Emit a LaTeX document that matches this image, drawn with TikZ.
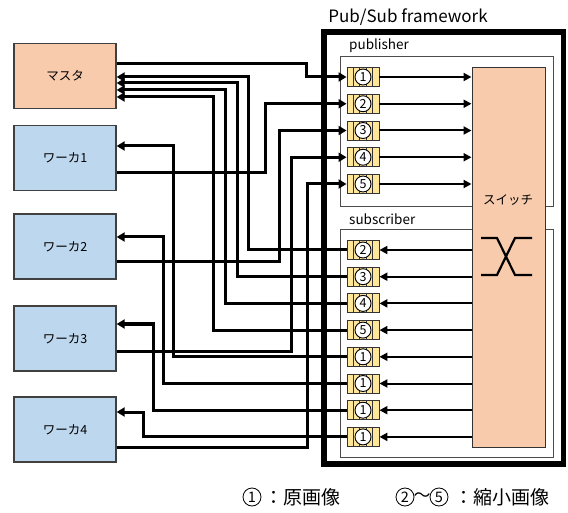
\documentclass[tikz,border=0pt]{standalone}
\usepackage{fontspec}
\setmainfont{Noto Sans CJK JP}
\usetikzlibrary{arrows.meta,calc}
\definecolor{mcol}{HTML}{F8CBAD}
\definecolor{wcol}{HTML}{BDD7EE}
\definecolor{qcol}{HTML}{FFE699}
\begin{document}
\begin{tikzpicture}[x=1pt,y=-1pt,
  box/.style={draw=black!75, line width=1.3pt, minimum width=102pt, minimum height=65pt, inner sep=0pt, font=\fontsize{12.5}{14}\selectfont},
  queue/.style={draw=black!80, line width=0.9pt, fill=qcol, minimum width=32pt, minimum height=19pt, inner sep=0pt,
    font=\fontsize{12.5}{12.5}\selectfont,
    path picture={
      \foreach \f in {0.2,0.38,0.62,0.8}{
        \draw[black!80,line width=0.8pt] ($(path picture bounding box.south west)!\f!(path picture bounding box.south east)$) -- ($(path picture bounding box.north west)!\f!(path picture bounding box.north east)$);}
      \draw[black, line width=0.9pt, fill=white] (path picture bounding box.center) circle[radius=8pt];
    }},
  conn/.style={line width=3pt, black},
  arr/.style={conn, -{Triangle[length=8pt,width=9pt]}},
  iarr/.style={line width=2pt, black, -{Triangle[length=8pt,width=8pt]}},
  frame/.style={draw=black!70, line width=0.8pt, fill=white, inner sep=0pt},
  lgcirc/.style={circle, draw, line width=0.8pt, minimum size=18pt, inner sep=0pt, font=\fontsize{14.5}{14.5}\selectfont},
  lgtext/.style={anchor=west, inner sep=0pt, font=\fontsize{19}{21}\selectfont}
]
\useasboundingbox (0,0) rectangle (568,513);

% framework
\node[draw, line width=5.5pt, minimum width=239.5pt, minimum height=432pt, inner sep=0pt] (fw) at (443.75,248) {};
\node[font=\fontsize{17}{19}\selectfont] (fwl) at (408,17) {Pub/Sub framework};
\node[frame, minimum width=213pt, minimum height=150pt] (pub) at (446.5,131) {};
\node[frame, minimum width=213pt, minimum height=228pt] (sub) at (446.5,343) {};
\node[anchor=west, inner sep=0pt, font=\fontsize{13.5}{15}\selectfont] (publ) at (349,46) {publisher};
\node[anchor=west, inner sep=0pt, font=\fontsize{13.5}{15}\selectfont] (subl) at (349,219) {subscriber};

% switch
\node[draw=black!80, line width=1pt, fill=mcol, minimum width=73pt, minimum height=379pt, inner sep=0pt] (sw) at (508.5,257.5) {};
\node[font=\fontsize{12.5}{14}\selectfont] (swl) at (508,200) {スイッチ};
\draw[line width=2.2pt] (481,238) -- (497,238) -- (515,275) -- (532,275);
\draw[line width=2.2pt] (481,275) -- (497,275) -- (515,238) -- (532,238);

% left boxes
\node[box, fill=mcol] (m) at (65,76) {マスタ};
\node[box, fill=wcol] (w1) at (65,158) {ワーカ1};
\node[box, fill=wcol] (w2) at (65,246.5) {ワーカ2};
\node[box, fill=wcol] (w3) at (65,338.5) {ワーカ3};
\node[box, fill=wcol] (w4) at (65,429.5) {ワーカ4};

% queues
\foreach \i in {1,...,5}{
  \node[queue] (p\i) at (363,{77+26.75*(\i-1)}) {\i};
  \draw[iarr] (p\i.east) -- (p\i.east -| sw.west);
}
\foreach \i/\t in {1/2,2/3,3/4,4/5,5/1,6/1,7/1,8/1}{
  \node[queue] (s\i) at (363,{250+26.7*(\i-1)}) {\t};
  \draw[iarr] (s\i.east -| sw.west) -- (s\i.east);
}

% outputs to publisher
\draw[arr] ([yshift=12pt]m.east) -| ([xshift=-40pt]p1.west) -- (p1.west);
\draw[arr] ([yshift=-15pt]w1.east) -| ([xshift=-81pt]p2.west) -- (p2.west);
\draw[arr] ([yshift=-15.5pt]w2.east) -| ([xshift=-67pt]p3.west) -- (p3.west);
\draw[arr] ([yshift=-12.5pt]w3.east) -| ([xshift=-55pt]p4.west) -- (p4.west);
\draw[arr] ([yshift=-17.5pt]w4.east) -| ([xshift=-39pt]p5.west) -- (p5.west);

% inputs from subscriber
\draw[arr] (s1.west) -| ([xshift=132pt,yshift=-1pt]m.east) -- ([yshift=-1pt]m.east);
\draw[arr] (s2.west) -| ([xshift=121pt,yshift=-7pt]m.east) -- ([yshift=-7pt]m.east);
\draw[arr] (s3.west) -| ([xshift=109pt,yshift=-14pt]m.east) -- ([yshift=-14pt]m.east);
\draw[arr] (s4.west) -| ([xshift=97pt,yshift=-21pt]m.east) -- ([yshift=-21pt]m.east);
\draw[arr] (s5.west) -| ([xshift=57pt,yshift=12pt]w1.east) -- ([yshift=12pt]w1.east);
\draw[arr] (s6.west) -| ([xshift=47pt,yshift=9.5pt]w2.east) -- ([yshift=9.5pt]w2.east);
\draw[arr] (s7.west) -| ([xshift=37pt,yshift=14.5pt]w3.east) -- ([yshift=14.5pt]w3.east);
\draw[arr] (s8.west) -| ([xshift=27pt,yshift=17.5pt]w4.east) -- ([yshift=17.5pt]w4.east);

% legend
\node[lgcirc] (l1) at (252,497) {1};
\node[lgtext] (l1t) at (264,497) {：原画像};
\node[lgcirc] (l2) at (405,497) {2};
\node[inner sep=0pt, font=\fontsize{17}{19}\selectfont] (ltil) at (422,497) {～};
\node[lgcirc] (l5) at (439,497) {5};
\node[lgtext] (l5t) at (454,497) {：縮小画像};
\end{tikzpicture}
\end{document}
